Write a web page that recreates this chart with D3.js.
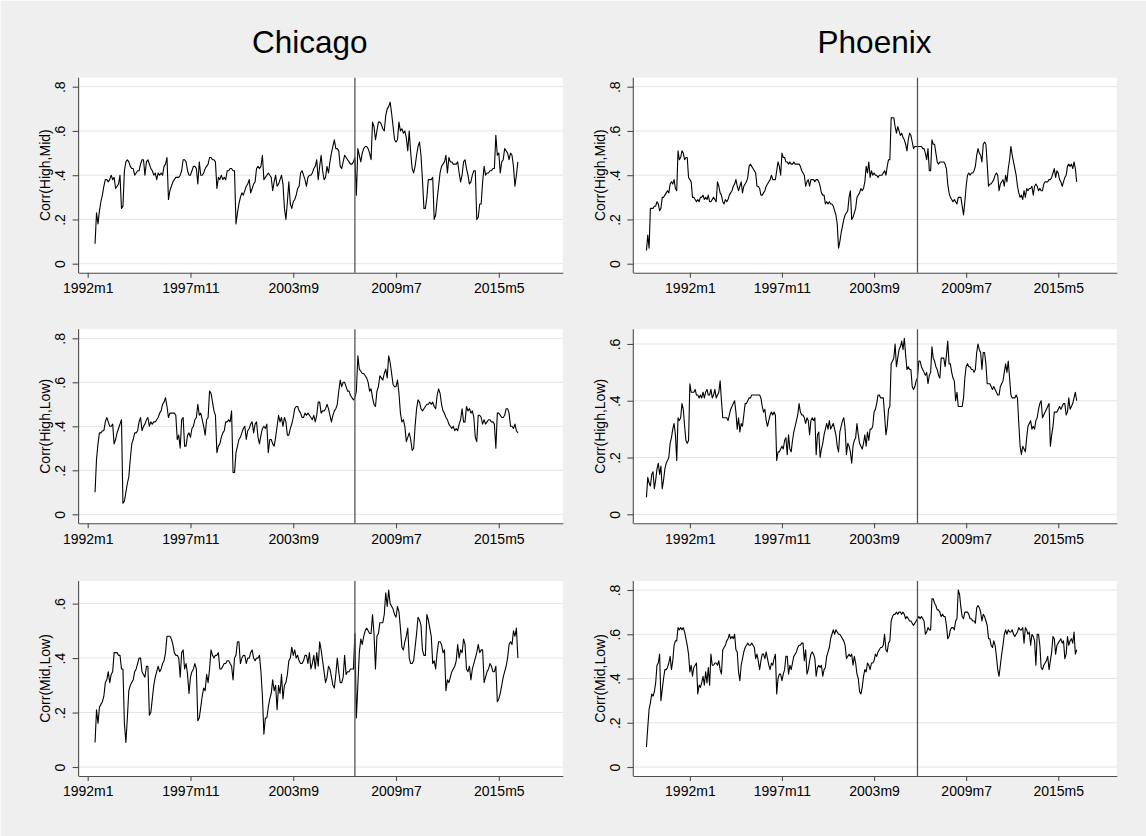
<!DOCTYPE html>
<html>
<head>
<meta charset="utf-8">
<script src="https://cdn.jsdelivr.net/npm/d3@7/dist/d3.min.js"></script>
<style>
  html, body { margin: 0; padding: 0; background: #efefef; }
  svg { display: block; }
  text { font-family: "Liberation Sans", Arial, sans-serif; fill: #000; }
</style>
</head>
<body>
<svg id="chart" width="1146" height="836"></svg>
<script>
// ---- data -------------------------------------------------------------
const cities = ["Chicago", "Phoenix"];
const pairLabels = ["Corr(High,Mid)", "Corr(High,Low)", "Corr(Mid,Low)"];
const xTickLabels = ["1992m1", "1997m11", "2003m9", "2009m7", "2015m5"];
const yTickLabels = ["0", ".2", ".4", ".6", ".8"];
const yTickValues = [0, 0.2, 0.4, 0.6, 0.8];
// first month of each city's series, and the month marked by the vertical rule
const seriesStart = ["1992m6", "1989m4"];
const breakMonth = ["2007m3", "2006m6"];
// highest labelled tick on each panel (rows: High-Mid, High-Low, Mid-Low)
const chicagoTopTick = [0.8, 0.8, 0.6];
const phoenixTopTick = [0.8, 0.6, 0.8];

// rolling correlations, one value per month
const chicagoHighMid = [
 0.09,0.23,0.18,0.24,0.28,0.31,0.35,0.38,0.38,0.37,
 0.38,0.40,0.38,0.39,0.34,0.35,0.36,0.40,0.25,0.26,
 0.42,0.46,0.47,0.46,0.44,0.43,0.43,0.40,0.41,0.42,
 0.42,0.45,0.47,0.47,0.40,0.46,0.47,0.45,0.43,0.42,
 0.40,0.41,0.38,0.41,0.40,0.41,0.40,0.44,0.45,0.48,
 0.29,0.33,0.35,0.37,0.38,0.39,0.39,0.39,0.40,0.42,
 0.47,0.47,0.46,0.42,0.40,0.40,0.42,0.44,0.44,0.43,
 0.36,0.46,0.40,0.40,0.41,0.43,0.44,0.45,0.48,0.48,
 0.47,0.47,0.46,0.34,0.39,0.38,0.40,0.38,0.39,0.38,
 0.42,0.42,0.43,0.43,0.42,0.42,0.18,0.23,0.27,0.30,
 0.32,0.31,0.33,0.35,0.36,0.38,0.32,0.34,0.36,0.37,
 0.43,0.44,0.43,0.44,0.49,0.38,0.39,0.40,0.41,0.40,
 0.39,0.33,0.37,0.40,0.35,0.36,0.38,0.40,0.36,0.25,
 0.20,0.28,0.37,0.27,0.25,0.28,0.29,0.31,0.34,0.35,
 0.41,0.42,0.40,0.38,0.35,0.39,0.40,0.40,0.41,0.43,
 0.44,0.47,0.38,0.44,0.49,0.42,0.38,0.39,0.44,0.41,
 0.46,0.50,0.53,0.56,0.52,0.52,0.51,0.44,0.43,0.46,
 0.49,0.48,0.47,0.46,0.45,0.45,0.46,0.48,0.31,0.52,
 0.49,0.46,0.50,0.52,0.53,0.53,0.52,0.50,0.47,0.64,
 0.62,0.56,0.60,0.64,0.64,0.63,0.61,0.60,0.67,0.70,
 0.71,0.73,0.68,0.62,0.56,0.55,0.56,0.64,0.60,0.61,
 0.59,0.60,0.57,0.51,0.60,0.50,0.43,0.41,0.44,0.49,
 0.53,0.55,0.49,0.38,0.25,0.25,0.30,0.38,0.38,0.38,
 0.39,0.20,0.22,0.29,0.35,0.41,0.44,0.45,0.46,0.49,
 0.41,0.48,0.46,0.46,0.45,0.45,0.45,0.46,0.41,0.37,
 0.40,0.46,0.47,0.43,0.40,0.36,0.37,0.40,0.42,0.42,
 0.20,0.21,0.27,0.27,0.37,0.44,0.40,0.41,0.41,0.42,
 0.42,0.43,0.43,0.58,0.49,0.50,0.41,0.46,0.47,0.52,
 0.51,0.50,0.47,0.50,0.49,0.44,0.35,0.40,0.46];

const chicagoHighLow = [
 0.10,0.25,0.32,0.37,0.37,0.38,0.38,0.42,0.44,0.42,
 0.40,0.40,0.41,0.32,0.34,0.37,0.39,0.41,0.43,0.05,
 0.06,0.10,0.14,0.17,0.25,0.32,0.34,0.37,0.37,0.38,
 0.42,0.44,0.38,0.40,0.41,0.43,0.44,0.40,0.42,0.41,
 0.42,0.42,0.43,0.44,0.46,0.47,0.50,0.51,0.53,0.49,
 0.44,0.46,0.46,0.46,0.46,0.45,0.34,0.36,0.30,0.43,
 0.44,0.31,0.31,0.36,0.37,0.35,0.39,0.40,0.43,0.44,
 0.50,0.45,0.46,0.43,0.40,0.36,0.43,0.44,0.56,0.55,
 0.51,0.47,0.45,0.28,0.31,0.32,0.35,0.37,0.38,0.42,
 0.42,0.43,0.42,0.47,0.19,0.19,0.28,0.31,0.34,0.35,
 0.37,0.39,0.40,0.34,0.38,0.39,0.41,0.42,0.37,0.41,
 0.42,0.35,0.32,0.36,0.39,0.40,0.39,0.41,0.28,0.34,
 0.34,0.32,0.31,0.35,0.40,0.45,0.42,0.44,0.40,0.44,
 0.42,0.36,0.36,0.39,0.41,0.44,0.48,0.49,0.49,0.47,
 0.46,0.44,0.44,0.46,0.45,0.46,0.45,0.44,0.43,0.45,
 0.42,0.45,0.51,0.51,0.46,0.47,0.47,0.48,0.50,0.48,
 0.45,0.42,0.45,0.47,0.48,0.50,0.56,0.61,0.58,0.60,
 0.60,0.58,0.56,0.56,0.54,0.53,0.52,0.53,0.56,0.72,
 0.66,0.65,0.64,0.64,0.63,0.62,0.60,0.56,0.57,0.53,
 0.50,0.49,0.56,0.58,0.63,0.62,0.61,0.64,0.66,0.62,
 0.72,0.69,0.64,0.59,0.58,0.58,0.61,0.55,0.46,0.42,
 0.43,0.40,0.33,0.35,0.37,0.34,0.29,0.30,0.40,0.48,
 0.52,0.51,0.48,0.47,0.48,0.49,0.50,0.50,0.51,0.50,
 0.51,0.49,0.48,0.54,0.57,0.55,0.50,0.47,0.46,0.44,
 0.43,0.41,0.40,0.39,0.40,0.38,0.39,0.38,0.41,0.43,
 0.48,0.42,0.42,0.49,0.47,0.48,0.46,0.47,0.44,0.35,
 0.33,0.45,0.45,0.44,0.41,0.43,0.41,0.42,0.43,0.43,
 0.42,0.42,0.41,0.30,0.46,0.46,0.45,0.44,0.44,0.45,
 0.48,0.48,0.46,0.40,0.40,0.39,0.41,0.38,0.37];

const chicagoMidLow = [
 0.09,0.21,0.16,0.22,0.23,0.24,0.26,0.31,0.32,0.35,
 0.31,0.34,0.35,0.42,0.42,0.42,0.41,0.41,0.36,0.36,
 0.16,0.09,0.18,0.28,0.30,0.31,0.32,0.35,0.36,0.38,
 0.40,0.40,0.35,0.34,0.33,0.37,0.37,0.19,0.20,0.25,
 0.30,0.33,0.35,0.37,0.35,0.36,0.38,0.39,0.42,0.48,
 0.48,0.48,0.47,0.45,0.42,0.41,0.41,0.40,0.33,0.42,
 0.43,0.36,0.38,0.34,0.27,0.33,0.35,0.36,0.38,0.36,
 0.17,0.18,0.22,0.26,0.29,0.28,0.34,0.31,0.36,0.43,
 0.41,0.40,0.41,0.41,0.42,0.36,0.36,0.37,0.38,0.38,
 0.39,0.39,0.38,0.37,0.32,0.40,0.41,0.46,0.46,0.38,
 0.40,0.41,0.41,0.38,0.40,0.40,0.42,0.43,0.40,0.39,
 0.40,0.40,0.41,0.35,0.26,0.12,0.18,0.18,0.22,0.25,
 0.27,0.32,0.28,0.30,0.21,0.30,0.27,0.34,0.25,0.30,
 0.31,0.34,0.39,0.40,0.44,0.41,0.43,0.40,0.41,0.39,
 0.38,0.38,0.39,0.41,0.41,0.38,0.42,0.36,0.38,0.41,
 0.36,0.42,0.37,0.46,0.43,0.39,0.35,0.31,0.33,0.37,
 0.36,0.33,0.30,0.29,0.34,0.40,0.35,0.31,0.31,0.33,
 0.41,0.34,0.35,0.35,0.36,0.36,0.36,0.49,0.18,0.30,
 0.42,0.47,0.45,0.48,0.50,0.51,0.50,0.49,0.49,0.56,
 0.49,0.36,0.48,0.49,0.53,0.53,0.53,0.56,0.64,0.59,
 0.65,0.60,0.59,0.58,0.56,0.55,0.59,0.57,0.51,0.44,
 0.43,0.46,0.48,0.51,0.40,0.38,0.38,0.39,0.44,0.49,
 0.55,0.54,0.52,0.43,0.41,0.41,0.56,0.54,0.51,0.48,
 0.38,0.39,0.36,0.42,0.46,0.46,0.45,0.42,0.43,0.28,
 0.32,0.31,0.33,0.35,0.36,0.37,0.39,0.45,0.40,0.43,
 0.42,0.47,0.45,0.36,0.35,0.37,0.32,0.36,0.38,0.40,
 0.42,0.45,0.42,0.43,0.43,0.31,0.33,0.35,0.36,0.38,
 0.37,0.35,0.35,0.37,0.24,0.25,0.27,0.30,0.33,0.35,
 0.37,0.40,0.45,0.46,0.45,0.50,0.48,0.51,0.40];

const phoenixHighMid = [
 0.06,0.13,0.07,0.25,0.25,0.25,0.26,0.26,0.28,0.27,
 0.24,0.25,0.30,0.30,0.31,0.32,0.33,0.32,0.36,0.37,
 0.36,0.38,0.34,0.33,0.51,0.47,0.48,0.51,0.50,0.47,
 0.48,0.48,0.39,0.38,0.37,0.30,0.30,0.29,0.28,0.29,
 0.28,0.30,0.30,0.31,0.29,0.30,0.29,0.31,0.28,0.28,
 0.29,0.30,0.29,0.28,0.37,0.35,0.32,0.31,0.28,0.27,
 0.29,0.28,0.29,0.31,0.32,0.33,0.35,0.36,0.38,0.35,
 0.33,0.35,0.37,0.32,0.35,0.36,0.37,0.39,0.44,0.45,
 0.44,0.43,0.42,0.41,0.35,0.35,0.34,0.31,0.31,0.32,
 0.33,0.35,0.36,0.37,0.38,0.40,0.38,0.38,0.38,0.42,
 0.46,0.44,0.40,0.50,0.48,0.48,0.46,0.46,0.45,0.46,
 0.45,0.45,0.46,0.45,0.45,0.45,0.45,0.44,0.42,0.41,
 0.40,0.35,0.37,0.38,0.35,0.38,0.38,0.38,0.37,0.38,
 0.38,0.37,0.35,0.32,0.31,0.31,0.27,0.28,0.27,0.28,
 0.27,0.27,0.26,0.24,0.22,0.18,0.07,0.10,0.14,0.17,
 0.20,0.22,0.23,0.24,0.30,0.33,0.20,0.21,0.23,0.25,
 0.30,0.31,0.32,0.34,0.33,0.34,0.37,0.44,0.41,0.46,
 0.39,0.42,0.40,0.41,0.40,0.40,0.39,0.40,0.40,0.40,
 0.41,0.42,0.40,0.44,0.47,0.47,0.66,0.66,0.66,0.62,
 0.59,0.62,0.60,0.58,0.59,0.57,0.56,0.54,0.51,0.56,
 0.59,0.58,0.55,0.52,0.53,0.53,0.53,0.53,0.53,0.53,
 0.52,0.52,0.50,0.47,0.52,0.42,0.42,0.56,0.54,0.54,
 0.50,0.46,0.45,0.46,0.46,0.46,0.46,0.45,0.43,0.36,
 0.32,0.30,0.29,0.28,0.29,0.28,0.27,0.30,0.30,0.30,
 0.26,0.22,0.28,0.35,0.40,0.41,0.40,0.41,0.41,0.42,
 0.44,0.49,0.52,0.50,0.49,0.46,0.54,0.55,0.54,0.45,
 0.35,0.36,0.36,0.37,0.38,0.40,0.41,0.40,0.33,0.36,
 0.37,0.38,0.35,0.40,0.37,0.43,0.47,0.53,0.49,0.46,
 0.43,0.40,0.35,0.32,0.30,0.31,0.29,0.33,0.30,0.34,
 0.33,0.34,0.34,0.35,0.31,0.35,0.36,0.35,0.33,0.34,
 0.33,0.33,0.36,0.37,0.37,0.37,0.38,0.38,0.39,0.41,
 0.43,0.39,0.42,0.41,0.38,0.37,0.35,0.37,0.39,0.40,
 0.44,0.45,0.44,0.45,0.43,0.46,0.43,0.37];

const phoenixHighLow = [
 0.06,0.13,0.11,0.10,0.14,0.15,0.09,0.12,0.16,0.18,
 0.14,0.17,0.09,0.12,0.16,0.18,0.19,0.20,0.25,0.27,
 0.30,0.32,0.28,0.19,0.34,0.33,0.34,0.39,0.37,0.31,
 0.26,0.25,0.26,0.46,0.43,0.43,0.43,0.44,0.42,0.42,
 0.41,0.42,0.41,0.43,0.41,0.43,0.44,0.42,0.42,0.44,
 0.41,0.42,0.44,0.41,0.42,0.43,0.47,0.40,0.34,0.34,
 0.34,0.34,0.33,0.35,0.37,0.38,0.39,0.40,0.36,0.30,
 0.34,0.29,0.32,0.31,0.35,0.39,0.39,0.40,0.41,0.41,
 0.42,0.42,0.42,0.42,0.42,0.42,0.42,0.41,0.38,0.36,
 0.37,0.33,0.31,0.33,0.35,0.36,0.35,0.36,0.35,0.19,
 0.22,0.22,0.23,0.24,0.23,0.26,0.27,0.21,0.28,0.23,
 0.22,0.26,0.29,0.31,0.33,0.35,0.39,0.36,0.35,0.35,
 0.34,0.32,0.34,0.33,0.28,0.33,0.34,0.33,0.34,0.21,
 0.28,0.29,0.20,0.23,0.25,0.28,0.30,0.32,0.30,0.33,
 0.30,0.31,0.32,0.30,0.28,0.24,0.22,0.29,0.31,0.33,
 0.34,0.30,0.21,0.25,0.24,0.22,0.18,0.24,0.26,0.27,
 0.32,0.28,0.25,0.24,0.23,0.25,0.28,0.24,0.29,0.26,
 0.30,0.30,0.31,0.36,0.37,0.39,0.42,0.42,0.41,0.41,
 0.41,0.35,0.28,0.31,0.37,0.38,0.53,0.54,0.55,0.60,
 0.52,0.55,0.58,0.59,0.61,0.58,0.62,0.56,0.51,0.52,
 0.51,0.51,0.45,0.44,0.45,0.47,0.48,0.54,0.54,0.52,
 0.51,0.50,0.49,0.50,0.46,0.49,0.50,0.59,0.55,0.54,
 0.52,0.51,0.49,0.48,0.55,0.55,0.55,0.52,0.56,0.61,
 0.53,0.53,0.50,0.48,0.47,0.40,0.43,0.38,0.38,0.38,
 0.38,0.41,0.48,0.52,0.53,0.52,0.52,0.51,0.51,0.50,
 0.51,0.57,0.60,0.58,0.57,0.51,0.57,0.57,0.53,0.46,
 0.46,0.46,0.45,0.44,0.45,0.44,0.43,0.42,0.42,0.45,
 0.46,0.47,0.50,0.53,0.50,0.54,0.48,0.42,0.41,0.41,
 0.41,0.42,0.41,0.32,0.24,0.21,0.24,0.23,0.22,0.27,
 0.31,0.32,0.33,0.30,0.31,0.30,0.33,0.34,0.37,0.39,
 0.40,0.34,0.35,0.36,0.37,0.38,0.39,0.24,0.28,0.31,
 0.36,0.36,0.36,0.37,0.38,0.37,0.38,0.39,0.39,0.35,
 0.36,0.41,0.37,0.38,0.39,0.41,0.43,0.40];

const phoenixMidLow = [
 0.09,0.18,0.26,0.29,0.33,0.32,0.34,0.38,0.46,0.47,
 0.51,0.30,0.35,0.40,0.44,0.44,0.45,0.47,0.50,0.44,
 0.48,0.55,0.57,0.57,0.63,0.62,0.63,0.62,0.63,0.61,
 0.58,0.55,0.51,0.43,0.46,0.41,0.45,0.46,0.47,0.33,
 0.37,0.36,0.38,0.41,0.37,0.43,0.38,0.45,0.37,0.51,
 0.46,0.46,0.47,0.47,0.46,0.48,0.44,0.42,0.53,0.54,
 0.55,0.57,0.58,0.60,0.58,0.59,0.58,0.60,0.53,0.52,
 0.43,0.39,0.46,0.49,0.52,0.54,0.55,0.56,0.55,0.55,
 0.56,0.55,0.54,0.49,0.51,0.48,0.44,0.48,0.51,0.51,
 0.49,0.52,0.49,0.46,0.44,0.47,0.46,0.49,0.51,0.33,
 0.40,0.42,0.42,0.39,0.42,0.44,0.50,0.50,0.42,0.46,
 0.44,0.47,0.50,0.51,0.52,0.54,0.55,0.55,0.56,0.56,
 0.48,0.53,0.42,0.44,0.48,0.51,0.52,0.51,0.49,0.41,
 0.45,0.46,0.45,0.46,0.41,0.44,0.45,0.50,0.52,0.54,
 0.58,0.60,0.62,0.60,0.62,0.61,0.60,0.60,0.59,0.58,
 0.57,0.55,0.49,0.50,0.51,0.50,0.51,0.46,0.50,0.47,
 0.42,0.40,0.34,0.33,0.36,0.41,0.44,0.43,0.47,0.46,
 0.44,0.47,0.47,0.48,0.51,0.50,0.52,0.53,0.54,0.54,
 0.55,0.60,0.53,0.52,0.56,0.57,0.66,0.68,0.69,0.69,
 0.70,0.69,0.70,0.70,0.69,0.70,0.69,0.67,0.68,0.67,
 0.66,0.66,0.65,0.64,0.65,0.66,0.67,0.68,0.67,0.68,
 0.67,0.66,0.60,0.61,0.63,0.62,0.62,0.76,0.76,0.74,
 0.73,0.71,0.71,0.70,0.68,0.69,0.68,0.68,0.64,0.58,
 0.59,0.62,0.63,0.63,0.62,0.66,0.67,0.80,0.78,0.72,
 0.68,0.67,0.70,0.70,0.70,0.69,0.67,0.67,0.66,0.66,
 0.65,0.72,0.73,0.72,0.70,0.66,0.69,0.68,0.66,0.64,
 0.58,0.58,0.55,0.54,0.57,0.55,0.50,0.44,0.41,0.46,
 0.51,0.55,0.60,0.62,0.60,0.62,0.61,0.61,0.62,0.60,
 0.59,0.60,0.61,0.63,0.62,0.62,0.63,0.56,0.63,0.62,
 0.60,0.61,0.55,0.60,0.59,0.57,0.46,0.60,0.60,0.55,
 0.45,0.44,0.46,0.47,0.48,0.50,0.44,0.48,0.52,0.59,
 0.58,0.51,0.55,0.56,0.57,0.58,0.56,0.57,0.49,0.51,
 0.59,0.55,0.57,0.58,0.56,0.61,0.51,0.53];

const chicagoSeries = [chicagoHighMid, chicagoHighLow, chicagoMidLow];
const phoenixSeries = [phoenixHighMid, phoenixHighLow, phoenixMidLow];

// ---- layout -----------------------------------------------------------
const W = 1146, H = 836;
const columns = [
  { left: 78.6, right: 562.8, titleX: 309.7, monthRange: [377.8, 707.6] },
  { left: 633.3, right: 1116.8, titleX: 874.5, monthRange: [341, 708.5] }
];
const rows = [
  { top: 77.7, bottom: 272.7 },
  { top: 329.3, bottom: 523.3 },
  { top: 581, bottom: 776 }
];
const inset = 9;          // gap between plot edge and data range (vertical)
const fontStack = '"Liberation Sans", Arial, sans-serif';
const axisColor = "#4d4d4d";
const gridColor = "#e4e4e4";

// "1992m1" -> months since 1960m1
function parseMonth(s) {
  const [y, m] = s.split("m").map(Number);
  return (y - 1960) * 12 + (m - 1);
}

const svg = d3.select("#chart").attr("viewBox", `0 0 ${W} ${H}`);

svg.append("rect").attr("x", 0).attr("y", 0).attr("width", W).attr("height", H)
  .attr("fill", "#efefef");
// thin light edge along the top and left of the figure
svg.append("path").attr("d", `M0.5,${H} V0.5 H${W}`)
  .attr("fill", "none").attr("stroke", "#fafafa").attr("stroke-width", 1);

const xTickMonths = xTickLabels.map(parseMonth);

cities.forEach((city, ci) => {
  const col = columns[ci];
  const series = ci === 0 ? chicagoSeries : phoenixSeries;
  const topTicks = ci === 0 ? chicagoTopTick : phoenixTopTick;
  const start = parseMonth(seriesStart[ci]);
  const breakAt = parseMonth(breakMonth[ci]);

  svg.append("text")
    .attr("x", col.titleX).attr("y", 53)
    .attr("text-anchor", "middle")
    .style("font-size", "31.5px")
    .text(city);

  const x = d3.scaleLinear().domain(col.monthRange).range([col.left, col.right]);

  series.forEach((values, ri) => {
    const row = rows[ri];
    const topTick = topTicks[ri];
    const yMax = Math.max(topTick, d3.max(values));
    const y = d3.scaleLinear().domain([0, yMax]).range([row.bottom - inset, row.top + inset]);
    const ticks = yTickValues.filter(v => v <= topTick + 1e-9);

    const g = svg.append("g").attr("class", "panel");

    // plot region
    g.append("rect")
      .attr("x", col.left).attr("y", row.top)
      .attr("width", col.right - col.left).attr("height", row.bottom - row.top)
      .attr("fill", "#ffffff");

    // horizontal grid
    g.append("g").selectAll("line").data(ticks).join("line")
      .attr("x1", col.left).attr("x2", col.right)
      .attr("y1", d => y(d)).attr("y2", d => y(d))
      .attr("stroke", gridColor).attr("stroke-width", 1);

    // series
    const line = d3.line()
      .x((d, i) => x(start + i))
      .y(d => y(d));
    g.append("path")
      .datum(values)
      .attr("d", line)
      .attr("fill", "none")
      .attr("stroke", "#000")
      .attr("stroke-width", 1.1)
      .attr("stroke-linejoin", "round");

    // vertical rule
    g.append("line")
      .attr("x1", x(breakAt)).attr("x2", x(breakAt))
      .attr("y1", row.top).attr("y2", row.bottom)
      .attr("stroke", "#555").attr("stroke-width", 1.3);

    // x axis
    const xAxis = g.append("g")
      .attr("transform", `translate(0,${row.bottom})`)
      .call(d3.axisBottom(x)
        .tickValues(xTickMonths)
        .tickFormat((d, i) => xTickLabels[i])
        .tickSize(5)
        .tickSizeOuter(0)
        .tickPadding(5.4));
    xAxis.select(".domain").attr("stroke", axisColor).attr("stroke-width", 1.1);
    xAxis.selectAll(".tick line").attr("stroke", axisColor).attr("stroke-width", 1.1);
    xAxis.selectAll(".tick text")
      .style("font-family", fontStack).style("font-size", "14px").attr("fill", "#000");

    // y axis
    const yAxis = g.append("g")
      .attr("transform", `translate(${col.left},0)`)
      .call(d3.axisLeft(y)
        .tickValues(ticks)
        .tickFormat(d => yTickLabels[yTickValues.indexOf(d)])
        .tickSize(6)
        .tickSizeOuter(0));
    yAxis.select(".domain").remove();
    yAxis.append("line")
      .attr("x1", 0).attr("x2", 0)
      .attr("y1", row.top).attr("y2", row.bottom + 0.5)
      .attr("stroke", axisColor).attr("stroke-width", 1.1);
    yAxis.selectAll(".tick line").attr("stroke", axisColor).attr("stroke-width", 1.1);
    yAxis.selectAll(".tick text")
      .attr("transform", "rotate(-90)")
      .attr("x", 0).attr("y", -13.5).attr("dy", 0)
      .attr("text-anchor", "middle")
      .style("font-family", fontStack).style("font-size", "14px").attr("fill", "#000");

    // y axis title
    g.append("text")
      .attr("transform", `translate(${col.left - 28.5},${(row.top + row.bottom) / 2}) rotate(-90)`)
      .attr("text-anchor", "middle")
      .style("font-size", "14px")
      .text(pairLabels[ri]);
  });
});
</script>
</body>
</html>
